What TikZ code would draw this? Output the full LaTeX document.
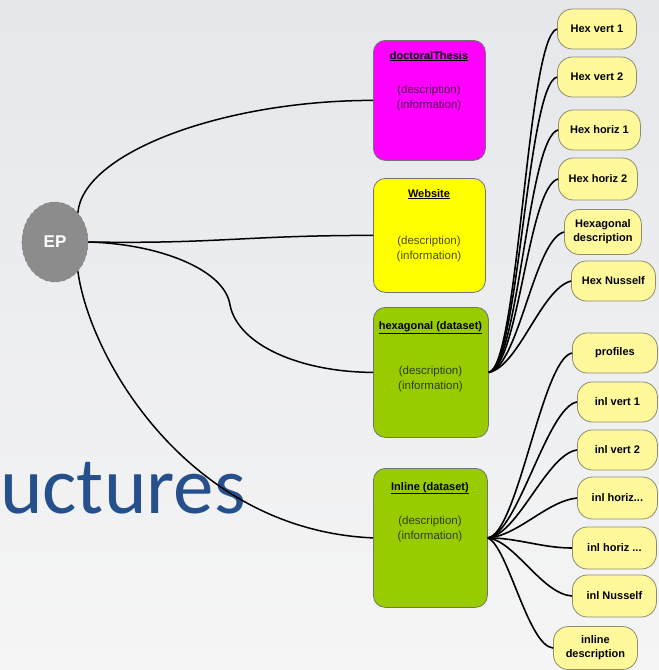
\documentclass[tikz,border=0pt]{standalone}
\usepackage{fontspec}
\setmainfont{Liberation Sans}
\newfontfamily\calib{Carlito}
\usetikzlibrary{shapes.geometric}
\definecolor{bgtop}{HTML}{E5E7EB}
\definecolor{bgbot}{HTML}{F5F5F5}
\definecolor{magentabox}{HTML}{FF00FF}
\definecolor{yellowbox}{HTML}{FFFF00}
\definecolor{greenbox}{HTML}{99CC00}
\definecolor{pillfill}{HTML}{FFF99C}
\definecolor{pillborder}{HTML}{8E8C70}
\definecolor{epgray}{HTML}{8C8C8C}
\definecolor{titleblue}{HTML}{25508C}
\tikzset{
  box/.style={draw=black!55, line width=0.8pt, rounded corners=12pt, anchor=north west, inner sep=0pt},
  pill/.style={draw=pillborder, fill=pillfill, rounded corners=15pt, line width=0.8pt,
    font=\fontsize{11}{14}\selectfont\bfseries, align=center, anchor=west, inner sep=1pt, minimum height=40pt},
  boxtitle/.style={font=\fontsize{11}{13}\selectfont\bfseries, anchor=base},
  boxdesc/.style={font=\fontsize{11.5}{15}\selectfont, align=center, text=black, text opacity=0.7},
  link/.style={line width=1.5pt, black},
  fan/.style={line width=1.6pt, black}
}
\begin{document}
\begin{tikzpicture}[x=1pt, y=-1pt]
\useasboundingbox (0,0) rectangle (659,670);
\fill[top color=bgtop, bottom color=bgbot] (0,0) rectangle (659,670);

% big slide title fragment
\node[font=\calib\fontsize{81}{81}\selectfont, text=titleblue, anchor=base west, inner sep=0pt] (slidetitle) at (0,513) {uctures};

% EP
\node[ellipse, minimum width=66pt, minimum height=80pt, fill=epgray, draw=black!50, dashed,
      line width=0.6pt, text=white, font=\fontsize{17}{17}\selectfont\bfseries] (ep) at (55,242) {EP};

% boxes
\node[box, fill=magentabox, minimum width=112pt, minimum height=120pt] (doc) at (373,40) {};
\node[boxtitle] (doct) at (429,59) {\underline{doctoralThesis}};
\node[boxdesc] (docd) at (429,98.5) {(description)\\(information)};

\node[box, fill=yellowbox, minimum width=112pt, minimum height=114pt] (web) at (373,178) {};
\node[boxtitle] (webt) at (429,197) {\underline{Website}};
\node[boxdesc] (webd) at (429,249.5) {(description)\\(information)};

\node[box, fill=greenbox, minimum width=115pt, minimum height=130pt] (hex) at (373,307) {};
\node[boxtitle] (hext) at (430.5,329) {\underline{hexagonal (dataset)}};
\node[boxdesc] (hexd) at (430.5,379.5) {(description)\\(information)};

\node[box, fill=greenbox, minimum width=114pt, minimum height=139pt] (inl) at (373,468) {};
\node[boxtitle] (inlt) at (430,490) {\underline{Inline (dataset)}};
\node[boxdesc] (inld) at (430,529) {(description)\\(information)};

% hexagonal children
\node[pill, minimum width=79pt] (hv1) at (557,29) {Hex vert 1};
\node[pill, minimum width=79pt] (hv2) at (557,77) {Hex vert 2};
\node[pill, minimum width=82pt] (hh1) at (558,130) {Hex horiz 1};
\node[pill, minimum width=79pt, minimum height=42pt] (hh2) at (558,179) {Hex horiz 2};
\node[pill, minimum width=77pt, minimum height=45pt] (hdesc) at (564,232) {Hexagonal\\description};
\node[pill, minimum width=84pt] (hnu) at (571,281) {Hex Nusself};

% inline children
\node[pill, minimum width=85pt] (prof) at (572,353) {profiles};
\node[pill, minimum width=80pt] (iv1) at (577,402) {inl vert 1};
\node[pill, minimum width=80pt] (iv2) at (577,450) {inl vert 2};
\node[pill, minimum width=80pt, minimum height=42pt] (ih1) at (577,498) {inl horiz...};
\node[pill, minimum width=84pt, minimum height=42pt] (ih2) at (572,548) {inl horiz ...};
\node[pill, minimum width=84pt, minimum height=42pt] (inu) at (572,596) {inl Nusself};
\node[pill, minimum width=84pt, minimum height=43pt] (idesc) at (553,648) {inline\\description};

% EP links
\draw[link] (ep.52) .. controls +(5,-60) and +(-150,0) .. (doc.west);
\draw[link] (ep.east) .. controls +(130,2) and +(-130,0) .. (web.west);
\draw[link] (ep.east) .. controls +(72,2) and (225,270) .. (230,305)
            .. controls (238,345) and (300,372) .. (hex.west);
\draw[link] (ep.-52) .. controls (90,360) and (190,530) .. (inl.west);

% hexagonal fan
\foreach \t in {hv1,hv2,hh1,hh2,hdesc,hnu}
  \draw[fan] (hex.east) .. controls +(30,-6) and +(-30,8) .. (\t.west);

% inline fan
\draw[fan] (inl.east) .. controls +(30,-4) and +(-30,6) .. (prof.west);
\draw[fan] (inl.east) .. controls +(30,-4) and +(-30,5) .. (iv1.west);
\draw[fan] (inl.east) .. controls +(30,-3) and +(-30,4) .. (iv2.west);
\draw[fan] (inl.east) .. controls +(30,-2) and +(-30,3) .. (ih1.west);
\draw[fan] (inl.east) .. controls +(30,0) and +(-30,0) .. (ih2.west);
\draw[fan] (inl.east) .. controls +(27,3) and +(-30,-2) .. (inu.west);
\draw[fan] (inl.east) .. controls +(20,8) and +(-25,-2) .. (idesc.west);
\end{tikzpicture}
\end{document}
